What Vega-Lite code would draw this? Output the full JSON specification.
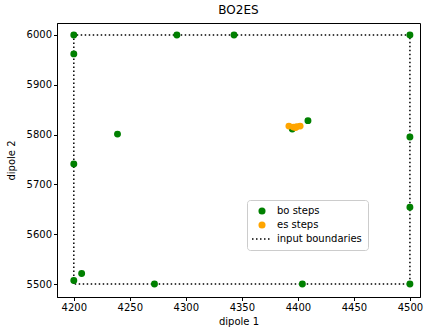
{
  "$schema": "https://vega.github.io/schema/vega-lite/v6.json",
  "autosize": {"type": "fit", "contains": "padding"},
  "width": 424,
  "height": 329,
  "padding": {"left": 6, "top": 4, "right": 3, "bottom": 2},
  "title": {"text": "BO2ES", "font": "DejaVu Sans", "fontSize": 12, "fontWeight": "normal", "color": "#000", "offset": 6},
  "config": {
    "font": "DejaVu Sans",
    "view": {"stroke": "#000", "strokeWidth": 1},
    "axis": {"grid": false, "labelFont": "DejaVu Sans", "labelFontSize": 10, "labelColor": "#000", "titleFont": "DejaVu Sans", "titleFontSize": 10, "titleFontWeight": "normal", "titleColor": "#000", "tickColor": "#000", "domainColor": "#000", "tickSize": 3.5, "labelPadding": 2, "format": "d"},
    "axisY": {"titlePadding": 10}
  },
  "datasets": {
    "pts": [
      {"d1": 4200, "d2": 6000, "series": "bo steps"},
      {"d1": 4292, "d2": 6000, "series": "bo steps"},
      {"d1": 4343, "d2": 6000, "series": "bo steps"},
      {"d1": 4500, "d2": 6000, "series": "bo steps"},
      {"d1": 4200, "d2": 5962, "series": "bo steps"},
      {"d1": 4239, "d2": 5801, "series": "bo steps"},
      {"d1": 4200, "d2": 5741, "series": "bo steps"},
      {"d1": 4200, "d2": 5507, "series": "bo steps"},
      {"d1": 4207, "d2": 5521, "series": "bo steps"},
      {"d1": 4272, "d2": 5500, "series": "bo steps"},
      {"d1": 4404, "d2": 5500, "series": "bo steps"},
      {"d1": 4500, "d2": 5500, "series": "bo steps"},
      {"d1": 4500, "d2": 5795, "series": "bo steps"},
      {"d1": 4500, "d2": 5654, "series": "bo steps"},
      {"d1": 4409, "d2": 5828, "series": "bo steps"},
      {"d1": 4395, "d2": 5811, "series": "bo steps"},
      {"d1": 4392, "d2": 5817, "series": "es steps"},
      {"d1": 4396, "d2": 5815, "series": "es steps"},
      {"d1": 4399, "d2": 5816, "series": "es steps"},
      {"d1": 4402, "d2": 5817, "series": "es steps"},
      {"d1": 4398, "d2": 5814, "series": "es steps"}
    ],
    "bounds": [
      {"d1": 4200, "d2": 5500, "o": 1, "series": "input boundaries"},
      {"d1": 4200, "d2": 6000, "o": 2, "series": "input boundaries"},
      {"d1": 4500, "d2": 6000, "o": 3, "series": "input boundaries"},
      {"d1": 4500, "d2": 5500, "o": 4, "series": "input boundaries"},
      {"d1": 4200, "d2": 5500, "o": 5, "series": "input boundaries"}
    ]
  },
  "layer": [
    {
      "data": {"name": "bounds"},
      "mark": {"type": "line", "strokeDash": [1.5, 2.5], "strokeWidth": 1.5},
      "encoding": {
        "x": {"field": "d1", "type": "quantitative", "scale": {"domain": [4185, 4509], "nice": false, "zero": false}, "axis": {"title": "dipole 1", "values": [4200, 4250, 4300, 4350, 4400, 4450, 4500]}},
        "y": {"field": "d2", "type": "quantitative", "scale": {"domain": [5474, 6024], "nice": false, "zero": false}, "axis": {"title": "dipole 2", "values": [5500, 5600, 5700, 5800, 5900, 6000]}},
        "order": {"field": "o"},
        "color": {"field": "series", "type": "nominal", "scale": {"domain": ["bo steps", "es steps", "input boundaries"], "range": ["green", "orange", "black"]},
          "legend": {"title": null, "orient": "none", "legendX": 190, "legendY": 177, "labelFont": "DejaVu Sans", "labelFontSize": 10, "labelColor": "#000", "strokeColor": "#ccc", "cornerRadius": 3, "padding": 6, "fillColor": "white", "symbolSize": 50, "labelOffset": 10, "rowPadding": 4, "symbolOffset": 4,
            "encode": {"symbols": {"update": {
              "shape": {"signal": "datum.value == 'input boundaries' ? 'stroke' : 'circle'"},
              "strokeDash": {"signal": "datum.value == 'input boundaries' ? [1.5, 2.5] : null"},
              "size": {"signal": "datum.value == 'input boundaries' ? 400 : 50"},
              "fill": {"signal": "datum.value == 'bo steps' ? 'green' : datum.value == 'es steps' ? 'orange' : 'transparent'"},
              "stroke": {"signal": "datum.value == 'input boundaries' ? 'black' : 'transparent'"},
              "strokeWidth": {"signal": "datum.value == 'input boundaries' ? 1.5 : 0"}
            }}}
          }}
      }
    },
    {
      "data": {"name": "pts"},
      "mark": {"type": "point", "filled": true, "size": 48, "opacity": 1},
      "encoding": {
        "x": {"field": "d1", "type": "quantitative"},
        "y": {"field": "d2", "type": "quantitative"},
        "color": {"field": "series", "type": "nominal", "scale": {"domain": ["bo steps", "es steps", "input boundaries"], "range": ["green", "orange", "black"]}}
      }
    }
  ]
}
